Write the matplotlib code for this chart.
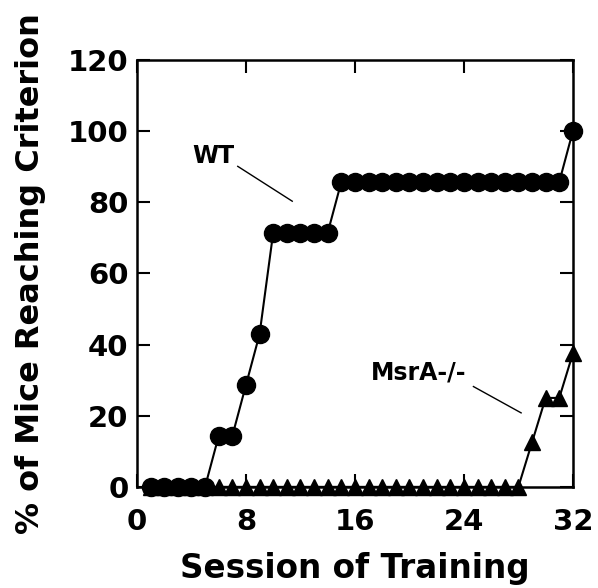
import matplotlib
matplotlib.use("Agg")
from matplotlib import pyplot as plt

# sessions and % of mice reaching criterion per genotype
sessions = list(range(1, 33))
wt = [0, 0, 0, 0, 0, 14.3, 14.3, 28.6, 42.9,
      71.4, 71.4, 71.4, 71.4, 71.4] + [85.7] * 17 + [100]
msra = [0] * 28 + [12.5, 25, 25, 37.5]
xticks = [0, 8, 16, 24, 32]
yticks = [0, 20, 40, 60, 80, 100, 120]

plt.rcParams['font.family'] = ['DejaVu Sans']
plt.rcParams['font.weight'] = 'bold'

fig = plt.figure(figsize=(5.98, 5.88), dpi=100)
ax = fig.add_axes([0.229, 0.172, 0.729, 0.726])

ax.plot(sessions, msra, color='black', lw=1.5, marker='^', ms=11, clip_on=False, zorder=3)
ax.plot(sessions, wt, color='black', lw=1.5, marker='o', ms=13, clip_on=False, zorder=4)

ax.set_xlim(0, 32)
ax.set_ylim(0, 120)
ax.set_xticks(xticks)
ax.set_yticks(yticks)
ax.tick_params(direction='in', length=9.5, width=1.5, top=True, right=True,
               labelsize=21)
ax.tick_params(axis='x', pad=15)
ax.tick_params(axis='y', pad=6)
for s in ax.spines.values():
    s.set_linewidth(1.8)

ax.set_xlabel("Session of Training", fontsize=23.5, fontweight='bold', labelpad=12)
ax.set_ylabel("% of Mice Reaching Criterion", fontsize=23, fontweight='bold', labelpad=16)

ax.text(5.6, 93, "WT", fontsize=17, fontweight='bold', ha='center', va='center')
ax.plot([7.4, 11.4], [90.1, 80.3], color='black', lw=1)
ax.text(20.7, 32.1, "MsrA-/-", fontsize=17, fontweight='bold', ha='center', va='center')
ax.plot([24.7, 28.2], [28.2, 20.8], color='black', lw=1)

fig.savefig("out.png", dpi=100)
